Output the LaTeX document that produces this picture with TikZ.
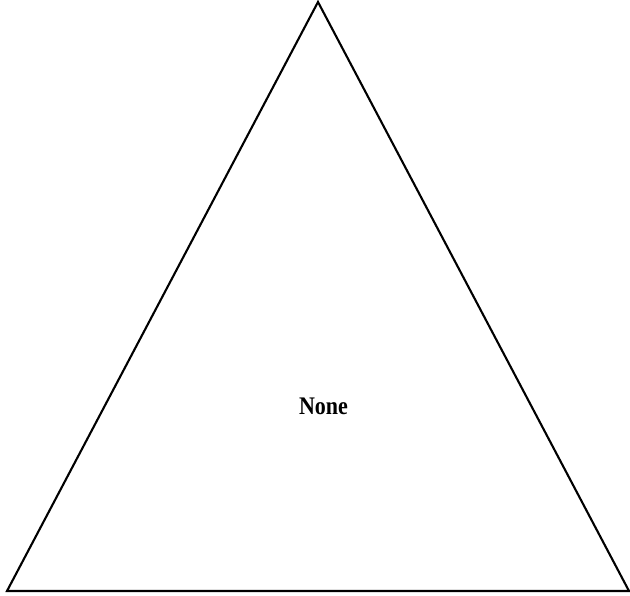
\documentclass[tikz,border=0pt]{standalone}
\usepackage{fontspec}
\setmainfont{Liberation Serif}
\begin{document}
\begin{tikzpicture}[
            x=1pt, y=1pt,
            edge/.style={line width=2.1pt, line join=miter},
            label/.style={font=\fontsize{22}{26}\selectfont\bfseries, yscale=1.15}
        ]
            \useasboundingbox (0,0) rectangle (630,596);
            \coordinate (top) at (318,594);
            \coordinate (left) at (7,5);
            \coordinate (right) at (629,5);
            \draw[edge] (top) -- (right) -- (left) -- cycle;
            \node[label, transform shape] (none) at (323.5,190) {None};
        \end{tikzpicture}
\end{document}
